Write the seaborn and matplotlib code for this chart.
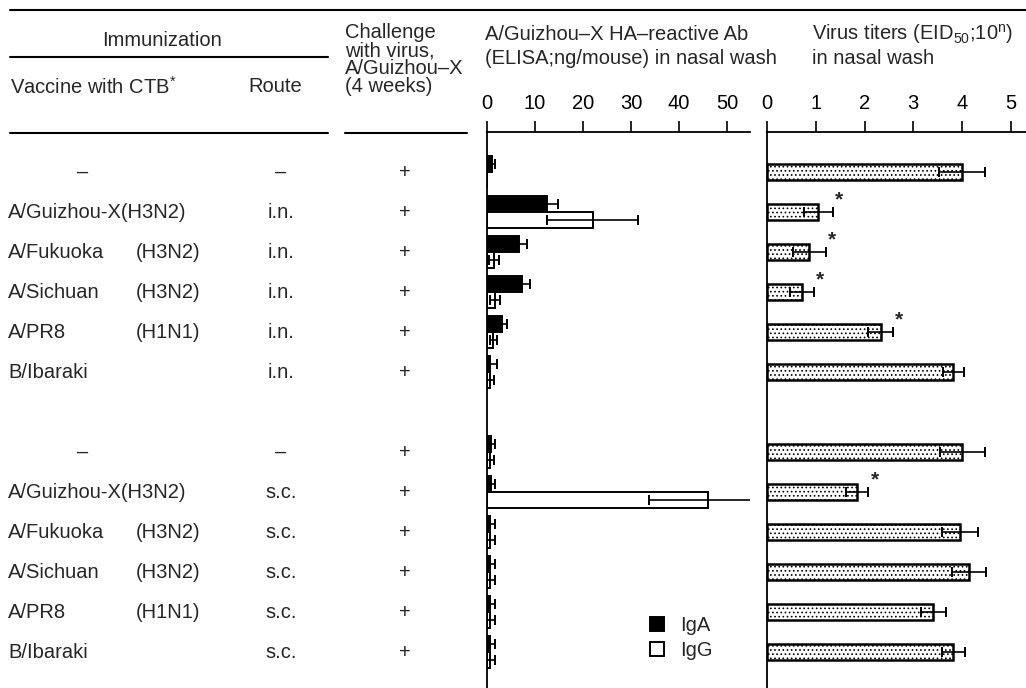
import numpy as np
import pandas as pd
import matplotlib
matplotlib.use("Agg")
import matplotlib.pyplot as plt
import matplotlib.transforms as mtransforms
from matplotlib.lines import Line2D
import seaborn as sns

W, H = 1026, 688

# rows top to bottom, "gap" is the blank row between the i.n. and s.c. blocks
row_ids = ["n0", "n1", "n2", "n3", "n4", "n5", "gap", "s0", "s1", "s2", "s3", "s4", "s5"]
data_rows = [r for r in row_ids if r != "gap"]

vaccines = ["–", "A/Guizhou-X(H3N2)", "A/Fukuoka", "A/Sichuan", "A/PR8", "B/Ibaraki",
            "–", "A/Guizhou-X(H3N2)", "A/Fukuoka", "A/Sichuan", "A/PR8", "B/Ibaraki"]
subtypes = ["", "", "(H3N2)", "(H3N2)", "(H1N1)", "",
            "", "", "(H3N2)", "(H3N2)", "(H1N1)", ""]
routes = ["–", "i.n.", "i.n.", "i.n.", "i.n.", "i.n.",
          "–", "s.c.", "s.c.", "s.c.", "s.c.", "s.c."]
challenge = ["+"] * 12

# HA-reactive Ab in nasal wash (ng/mouse)
iga = [1.0, 12.5, 6.7, 7.3, 3.2, 0.6, 0.8, 0.8, 0.6, 0.6, 0.6, 0.6]
iga_err = [0.7, 2.3, 1.6, 1.7, 0.9, 1.4, 0.9, 0.9, 1.1, 1.1, 1.1, 1.1]
igg = [0.0, 22.0, 1.5, 1.7, 1.3, 0.6, 0.6, 46.0, 0.6, 0.6, 0.6, 0.6]
igg_err = [0.0, 9.5, 1.0, 1.0, 0.7, 0.8, 0.9, 12.3, 1.1, 1.1, 1.1, 1.1]

# virus titers (EID50; 10^n)
titer = [4.0, 1.05, 0.87, 0.72, 2.33, 3.82, 4.0, 1.85, 3.96, 4.15, 3.41, 3.82]
titer_err = [0.47, 0.30, 0.33, 0.24, 0.25, 0.21, 0.46, 0.23, 0.37, 0.35, 0.25, 0.23]
signif = [False, True, True, True, True, False, False, True, False, False, False, False]

ab = pd.DataFrame({
    "row": data_rows * 2,
    "isotype": ["IgA"] * 12 + ["IgG"] * 12,
    "value": iga + igg,
    "err": iga_err + igg_err,
})
vt = pd.DataFrame({"row": data_rows, "titer": titer, "err": titer_err, "signif": signif})
pos = {r: i for i, r in enumerate(row_ids)}

sns.set_theme(style="white")
plt.rcParams["font.family"] = ["Liberation Sans", "DejaVu Sans"]
plt.rcParams["mathtext.fontset"] = "custom"
plt.rcParams["mathtext.rm"] = "Liberation Sans"
plt.rcParams["mathtext.it"] = "Liberation Sans:italic"
plt.rcParams["hatch.linewidth"] = 0.7
FS = 14.5

fig = plt.figure(figsize=(W / 100, H / 100), dpi=100)


def fx(x):
    return x / W


def fy(y):
    return 1 - y / H


ax_ab = fig.add_axes([fx(487), 0, (750 - 487) / W, (688 - 132) / H])
ax_vt = fig.add_axes([fx(767), 0, (1026 - 767) / W, (688 - 132) / H])

# --- antibody panel
sns.barplot(data=ab, x="value", y="row", hue="isotype", order=row_ids,
            hue_order=["IgA", "IgG"], palette={"IgA": "black", "IgG": "white"},
            edgecolor="black", linewidth=1.4, width=0.8, errorbar=None, ax=ax_ab)
eb = ab[ab.err > 0]
ax_ab.errorbar(eb.value, eb.row.map(pos) + eb.isotype.map({"IgA": -0.2, "IgG": 0.2}),
               xerr=eb.err, fmt="none", ecolor="black", elinewidth=1.2,
               capsize=3.5, capthick=1.4, zorder=3)
ax_ab.set_xlim(0, 54.8)
ax_ab.set_xticks([0, 10, 20, 30, 40, 50])
sns.move_legend(ax_ab, "center left", bbox_to_anchor=(0.55, 0.09), frameon=False,
                title=None, fontsize=FS, handlelength=0.7, handleheight=0.7,
                handletextpad=0.8, labelspacing=0.3)

# --- virus titer panel
sns.barplot(data=vt, x="titer", y="row", order=row_ids, color="white",
            edgecolor="black", linewidth=1.8, width=0.42, errorbar=None, ax=ax_vt)
for p in ax_vt.patches:
    p.set_hatch("....")
ax_vt.errorbar(vt.titer, vt.row.map(pos), xerr=vt.err, fmt="none", ecolor="black",
               elinewidth=1.2, capsize=3.5, capthick=1.4, zorder=3)
for _, r in vt[vt.signif].iterrows():
    ax_vt.text(r.titer + r.err + 0.05, pos[r.row] - 0.3, "*", fontsize=15,
               fontweight="bold", ha="left", va="center")
ax_vt.set_xlim(0, 5.31)
ax_vt.set_xticks([0, 1, 2, 3, 4, 5])

for ax in (ax_ab, ax_vt):
    ax.set_ylim(12.9, -1.0)
    ax.xaxis.tick_top()
    ax.tick_params(axis="x", direction="out", length=8, width=1.2, pad=6,
                   labelsize=FS, top=True, bottom=False, colors="black")
    ax.set_yticks([])
    ax.set_xlabel("")
    ax.set_ylabel("")
    ax.spines["bottom"].set_visible(False)
    ax.spines["right"].set_visible(False)
    for s in ("top", "left"):
        ax.spines[s].set_linewidth(1.3)
        ax.spines[s].set_color("black")
    ax.patch.set_alpha(0)

# --- table part on the left
trans = mtransforms.blended_transform_factory(fig.transFigure, ax_ab.transData)
for i, r in enumerate(data_rows):
    y = pos[r]
    if vaccines[i] == "–":
        fig.text(fx(83), y, vaccines[i], transform=trans, ha="center", va="center", fontsize=FS)
    else:
        fig.text(fx(8), y, vaccines[i], transform=trans, ha="left", va="center", fontsize=FS)
    if subtypes[i]:
        fig.text(fx(200), y, subtypes[i], transform=trans, ha="right", va="center", fontsize=FS)
    fig.text(fx(281), y, routes[i], transform=trans, ha="center", va="center", fontsize=FS)
    fig.text(fx(405), y, challenge[i], transform=trans, ha="center", va="center", fontsize=FS)

# header texts
fig.text(fx(162), fy(41), "Immunization", ha="center", va="center", fontsize=FS)
fig.text(fx(10), fy(87), "Vaccine with CTB$^{*}$", ha="left", va="center", fontsize=FS)
fig.text(fx(248), fy(87), "Route", ha="left", va="center", fontsize=FS)
for yy, line in zip([33, 51, 69, 87], ["Challenge", "with virus,", "A/Guizhou–X", "(4 weeks)"]):
    fig.text(fx(345), fy(yy), line, ha="left", va="center", fontsize=FS)
fig.text(fx(485), fy(35), "A/Guizhou–X HA–reactive Ab", ha="left", va="center", fontsize=FS)
fig.text(fx(485), fy(58), "(ELISA;ng/mouse) in nasal wash", ha="left", va="center", fontsize=FS)
fig.text(fx(812), fy(34), r"Virus titers (EID$_{50}$;10$^{\mathrm{n}}$)", ha="left", va="center", fontsize=FS)
fig.text(fx(812), fy(59), "in nasal wash", ha="left", va="center", fontsize=FS)

# rules
for x0, x1, yy in [(10, 1026, 10), (10, 328, 57), (10, 328, 133), (345, 467, 133)]:
    fig.add_artist(Line2D([fx(x0), fx(x1)], [fy(yy), fy(yy)], color="black", lw=1.5))

fig.savefig("out.png", dpi=100)
